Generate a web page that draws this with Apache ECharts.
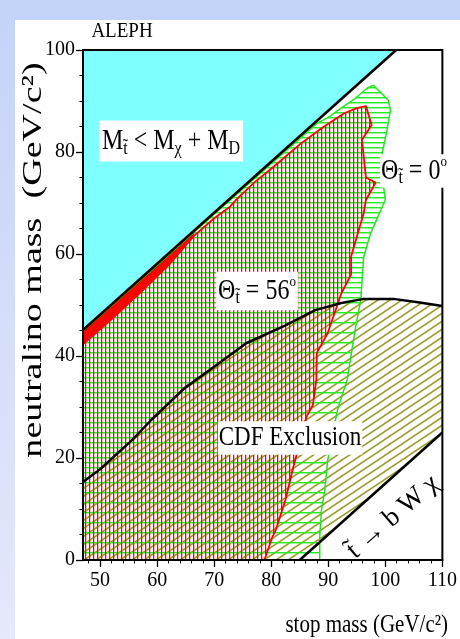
<!DOCTYPE html>
<html><head><meta charset="utf-8">
<script src="https://cdn.jsdelivr.net/npm/echarts@6/dist/echarts.min.js"></script>
<style>html,body{margin:0;padding:0;background:#fff}#c{width:460px;height:639px}</style>
</head><body><div id="c"></div>
<script>
// ---- data (GeV/c^2) ----
const xTickValues = [50, 60, 70, 80, 90, 100, 110];
const xMinorValues = [48, 52, 54, 56, 58, 62, 64, 66, 68, 72, 74, 76, 78, 82, 84, 86, 88, 92, 94, 96, 98, 102, 104, 106, 108];
const yTickValues = [0, 20, 40, 60, 80, 100];

const lowerLeft = [47, 0];
const kinX = [47, 101.9];           // M_stop = M_chi + M_D
const kinY = [45.1, 100];
const cyanX = [47, 47, 101.9];
const cyanY = [45.1, 100, 100];
const bwX = [85, 110];              // stop -> b W chi threshold
const bwY = [0, 25];
const cdfX = [47, 50, 55.6, 59, 64.8, 70, 75.6, 82.5, 87.7, 92.3, 96.2, 101.4, 106, 110];
const cdfY = [15.3, 17.8, 23.5, 27.5, 33.7, 37.9, 42.5, 46, 49, 50.4, 51.2, 51.2, 50.5, 49.8];
const greenTopX = [47, 60, 70, 80, 85, 88, 90, 92, 94.5, 96.8, 97.9];
const greenTopY = [44.9, 57.8, 67.8, 77.7, 82.6, 85.6, 86.8, 88.4, 90.3, 92.5, 93.1];
const greenRightX = [100.5, 100.9, 100.2, 99.3, 99.7, 100, 97.4, 96.2, 95.7, 94.8, 93.3, 91.6, 89.9, 89.4, 88.8, 88.5, 88.5];
const greenRightY = [90.2, 88.2, 83.7, 79, 73.2, 70.6, 64, 59.4, 51, 45.7, 35.3, 29.4, 19.6, 13.7, 9.8, 4.5, 0];
const redTopX = [47, 52, 57, 62, 66.5, 70, 72.7, 74, 77, 80.3, 85, 89, 92.8, 95, 96.6];
const redTopY = [42.3, 47.2, 52.4, 57.8, 63.6, 67.0, 69.2, 70.8, 74.0, 77.0, 81.5, 84.8, 87.6, 88.6, 89.0];
const redRightX = [97.6, 95.9, 96.6, 98.3, 96.6, 96.2, 94, 94, 92.3, 89.9, 88, 87.9, 87.3, 86.2, 84.2, 83.6, 82.5, 80.8, 80.2, 78.8];
const redRightY = [85.3, 82.4, 75, 74, 70.6, 68, 59.5, 56, 52.3, 44.5, 40.6, 35.3, 30.4, 28.1, 19.6, 17, 11.8, 5.9, 4.5, 0];
const redBandX = [47, 52, 57, 62, 66.5];
const redBandUpper = [45.0, 50.0, 55.0, 60.0, 64.4];
const redBandLower = [42.3, 47.2, 52.4, 57.8, 63.6];

// ---- geometry assembled from data ----
const zip = (xs, ys) => xs.map((x, i) => [x, ys[i]]);
const cdfPts = zip(cdfX, cdfY);
const bwPts = zip(bwX, bwY);
const greenTop = zip(greenTopX, greenTopY);
const greenRight = zip(greenRightX, greenRightY);
const redTop = zip(redTopX, redTopY);
const redRight = zip(redRightX, redRightY);
const greenPoly = [...greenTop, ...greenRight, lowerLeft];
const redPoly = [...redTop, ...redRight, lowerLeft];
const cdfPoly = [...cdfPts, ...bwPts.slice().reverse(), lowerLeft];
const joinIdx = greenRight.findIndex(p => p[1] <= 51.2);
const greenUpperPoly = [...cdfPts.filter(p => p[0] < greenRight[joinIdx][0]),
  ...greenRight.slice(0, joinIdx + 1).reverse(), ...greenTop.slice().reverse()];
const redBandPoly = [...zip(redBandX, redBandUpper), ...zip(redBandX, redBandLower).reverse()];
const cyanPoly = zip(cyanX, cyanY);

// ---- hatch patterns ----
function pat(w, h, fn) {
  const c = document.createElement('canvas'); c.width = w; c.height = h;
  fn(c.getContext('2d')); return { image: c, repeat: 'repeat' };
}
const redV = pat(4, 4, g => { g.fillStyle = '#ff0000'; g.fillRect(1, 0, 1, 4); g.fillStyle = 'rgba(255,60,60,0.35)'; g.fillRect(2, 0, 1, 4); });
const greenA = pat(4, 10, g => { g.fillStyle = '#22ee22'; g.fillRect(0, 2, 4, 1); g.fillStyle = 'rgba(40,230,40,0.45)'; g.fillRect(0, 3, 4, 1); });
const greenB = pat(4, 10, g => { g.fillStyle = '#22ee22'; g.fillRect(0, 7, 4, 1); g.fillStyle = 'rgba(40,230,40,0.45)'; g.fillRect(0, 8, 4, 1); });
const olive = pat(12, 8, g => {
  g.strokeStyle = '#9a9a28'; g.lineWidth = 1.5;
  for (let k = 0; k <= 2; k++) { g.beginPath(); g.moveTo(-1, 8 * k + 2 / 3); g.lineTo(13, 8 * k - 8 - 2 / 3); g.stroke(); }
});

function region(name, pts, fill, z) {
  return {
    type: 'custom', name, z, silent: true, data: [0],
    renderItem: (params, api) => ({
      type: 'polygon',
      shape: { points: pts.map(p => api.coord(p)) },
      style: { fill: fill, stroke: null }
    })
  };
}
function curve(name, pts, color, width, z) {
  return { type: 'line', name, z, data: pts, symbol: 'none', showSymbol: false, silent: true,
    lineStyle: { color, width }, animation: false };
}

const serif = 'Liberation Serif';
const chart = echarts.init(document.getElementById('c'));
chart.setOption({
  animation: false,
  grid: { left: 83, right: 10, top: 50, bottom: 79, show: true, borderColor: '#000', borderWidth: 2, backgroundColor: 'transparent', z: 10 },
  xAxis: [{
    type: 'value', min: 47, max: 110, z: 11,
    axisLine: { show: true, onZero: false, lineStyle: { color: '#000', width: 2 } },
    axisTick: { show: true, length: 7, lineStyle: { color: '#000', width: 1.3 }, customValues: xTickValues },
    axisLabel: { customValues: xTickValues, fontFamily: serif, fontSize: 20, color: '#000', margin: 11 },
    splitLine: { show: false }
  }, {
    type: 'value', min: 47, max: 110, position: 'bottom', z: 11,
    axisLine: { show: false },
    axisTick: { show: true, length: 3.5, lineStyle: { color: '#000', width: 1 }, customValues: xMinorValues },
    axisLabel: { show: false }, splitLine: { show: false }
  }],
  yAxis: [{
    type: 'value', min: 0, max: 100, interval: 20, z: 11,
    axisLine: { show: true, lineStyle: { color: '#000', width: 2 } },
    axisTick: { show: true, length: 7, lineStyle: { color: '#000', width: 1.3 }, customValues: yTickValues },
    minorTick: { show: true, splitNumber: 4, length: 3.5, lineStyle: { color: '#000', width: 1 } },
    axisLabel: { customValues: yTickValues, fontFamily: serif, fontSize: 20, color: '#000', margin: 8 },
    splitLine: { show: false }
  }],
  series: [
    region('CDF', cdfPoly, olive, 1),
    region('theta0', greenPoly, greenA, 2),
    region('theta0 upper', greenUpperPoly, greenB, 2),
    region('theta56', redPoly, redV, 3),
    region('theta56 band', redBandPoly, '#ff0000', 4),
    region('kinematic', cyanPoly, '#80ffff', 4),
    curve('theta0 edge', [...greenTop, ...greenRight], '#22e622', 1.5, 5),
    curve('theta56 edge', [...redTop, ...redRight], '#ff0000', 1.8, 6),
    curve('CDF edge', cdfPts, '#000', 2.5, 7),
    curve('kin edge', zip(kinX, kinY), '#000', 2.5, 7),
    curve('bWchi edge', bwPts, '#000', 2.5, 7)
  ],
  graphic: [
    { type: 'rect', z: -10, silent: true, shape: { x: 0, y: 0, width: 460, height: 639 },
      style: { fill: new echarts.graphic.LinearGradient(0, 0, 0, 1, [{ offset: 0, color: '#c3d3f8' }, { offset: 1, color: '#e6e8fb' }]) } },
    { type: 'rect', z: -9, silent: true, shape: { x: 15, y: 20, width: 445, height: 619 }, style: { fill: '#ffffff' } },
    { type: 'text', z: 100, x: 122, y: 32, scaleY: 1.1,
      style: { text: 'ALEPH', fontFamily: serif, fontSize: 19, fill: '#000', align: 'center', verticalAlign: 'middle' } },
    { type: 'text', z: 100, x: 34, y: 260, rotation: Math.PI / 2, scaleX: 1.36,
      style: { text: 'neutralino mass  (GeV/c²)', fontFamily: serif, fontSize: 28, fill: '#000', align: 'center', verticalAlign: 'middle' } },
    { type: 'text', z: 100, x: 448, y: 625, scaleY: 1.2,
      style: { text: 'stop mass (GeV/c²)', fontFamily: serif, fontSize: 21, fill: '#000', align: 'right', verticalAlign: 'middle' } },
    { type: 'text', z: 100, x: 171, y: 141, scaleY: 1.2,
      style: { text: '{b|M}{s|t̃}{b| < M}{s|χ}{b| + M}{s|D}', align: 'center', verticalAlign: 'middle',
        backgroundColor: '#fff', padding: [2, 3, 2, 3],
        rich: { b: { fontFamily: serif, fontSize: 24, lineHeight: 30, fill: '#000' },
                s: { fontFamily: serif, fontSize: 16, lineHeight: 8, verticalAlign: 'bottom', fill: '#000' } } } },
    { type: 'text', z: 100, x: 414, y: 171, scaleY: 1.2,
      style: { text: '{b|Θ}{s|t̃}{b| = 0}{p|o}', align: 'center', verticalAlign: 'middle',
        backgroundColor: '#fff', padding: [0, 1, 0, 1],
        rich: { b: { fontFamily: serif, fontSize: 24, lineHeight: 28, fill: '#000' },
                s: { fontFamily: serif, fontSize: 16, lineHeight: 8, verticalAlign: 'bottom', fill: '#000' },
                p: { fontFamily: serif, fontSize: 13, lineHeight: 10, verticalAlign: 'top', fill: '#000' } } } },
    { type: 'text', z: 100, x: 257, y: 291, scaleY: 1.2,
      style: { text: '{b|Θ}{s|t̃}{b| = 56}{p|o}', align: 'center', verticalAlign: 'middle',
        backgroundColor: '#fff', padding: [2, 2, 2, 2],
        rich: { b: { fontFamily: serif, fontSize: 24, lineHeight: 28, fill: '#000' },
                s: { fontFamily: serif, fontSize: 16, lineHeight: 8, verticalAlign: 'bottom', fill: '#000' },
                p: { fontFamily: serif, fontSize: 13, lineHeight: 10, verticalAlign: 'top', fill: '#000' } } } },
    { type: 'text', z: 100, x: 290, y: 438, scaleY: 1.15,
      style: { text: 'CDF Exclusion', fontFamily: serif, fontSize: 23, fill: '#000', align: 'center', verticalAlign: 'middle',
        backgroundColor: '#fff', padding: [3, 1, 3, 1] } },
    { type: 'text', z: 100, x: 393, y: 517, rotation: 41 * Math.PI / 180,
      style: { text: 't̃ → b W χ', fontFamily: serif, fontSize: 27, fill: '#000', align: 'center', verticalAlign: 'middle' } }
  ]
});
</script></body></html>
